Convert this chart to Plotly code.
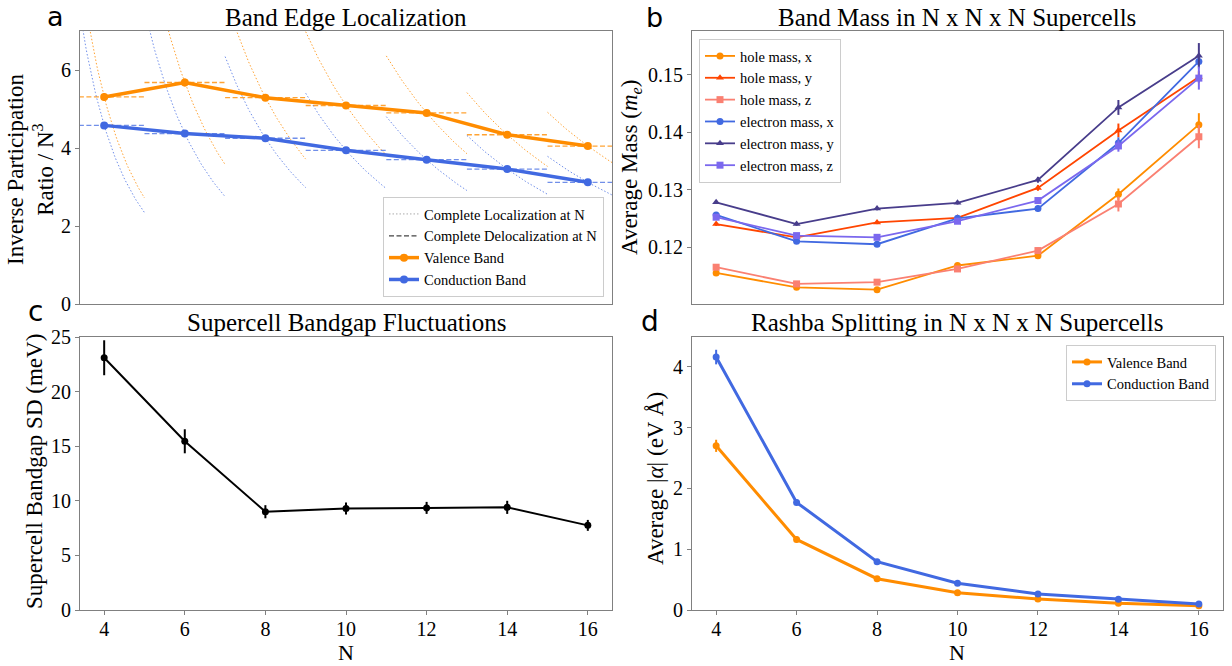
import numpy as np
import plotly.graph_objects as go

W, H = 1232, 666

# ---------------- data ----------------
N = [4, 6, 8, 10, 12, 14, 16]

# panel a: inverse participation ratio / N^3
ipr_valence = [5.31, 5.68, 5.29, 5.09, 4.90, 4.34, 4.05]
ipr_valence_err = [0.10, 0.10, 0.06, 0.05, 0.05, 0.05, 0.05]
ipr_conduction = [4.58, 4.37, 4.25, 3.94, 3.70, 3.46, 3.12]
ipr_conduction_err = [0.05, 0.04, 0.04, 0.03, 0.03, 0.03, 0.03]

# panel b: band masses
hole_x = [0.1155, 0.1130, 0.1126, 0.1168, 0.1185, 0.1292, 0.1413]
hole_x_err = [0.0003, 0.0003, 0.0003, 0.0003, 0.0005, 0.0010, 0.0020]
hole_y = [0.1240, 0.1217, 0.1243, 0.1251, 0.1303, 0.1403, 0.1496]
hole_y_err = [0.0003, 0.0003, 0.0003, 0.0003, 0.0005, 0.0012, 0.0010]
hole_z = [0.1165, 0.1136, 0.1139, 0.1162, 0.1194, 0.1275, 0.1392]
hole_z_err = [0.0003, 0.0003, 0.0003, 0.0003, 0.0005, 0.0013, 0.0020]
elec_x = [0.1256, 0.1210, 0.1205, 0.1250, 0.1267, 0.1381, 0.1523]
elec_x_err = [0.0003, 0.0003, 0.0003, 0.0003, 0.0005, 0.0010, 0.0009]
elec_y = [0.1278, 0.1240, 0.1267, 0.1277, 0.1317, 0.1443, 0.1533]
elec_y_err = [0.0003, 0.0003, 0.0003, 0.0003, 0.0005, 0.0013, 0.0022]
elec_z = [0.1252, 0.1220, 0.1217, 0.1245, 0.1281, 0.1376, 0.1494]
elec_z_err = [0.0003, 0.0003, 0.0003, 0.0003, 0.0005, 0.0010, 0.0020]

# panel c: bandgap SD (meV)
gap_sd = [23.1, 15.45, 9.0, 9.3, 9.35, 9.4, 7.75]
gap_sd_err = [1.6, 1.1, 0.6, 0.55, 0.55, 0.6, 0.5]

# panel d: Rashba |alpha|
rashba_valence = [2.70, 1.16, 0.515, 0.285, 0.18, 0.11, 0.07]
rashba_valence_err = [0.10, 0.05, 0.03, 0.02, 0.015, 0.01, 0.01]
rashba_conduction = [4.16, 1.77, 0.795, 0.44, 0.263, 0.176, 0.099]
rashba_conduction_err = [0.12, 0.05, 0.03, 0.02, 0.015, 0.01, 0.01]

tick_N = [4, 6, 8, 10, 12, 14, 16]

# ---------------- style ----------------
ORANGE = "#FF8C00"
BLUE = "#4169E1"
SERIF = "Liberation Serif, Times New Roman, serif"
SANS = "DejaVu Sans, sans-serif"
AXC = "#808080"


def px(p):
    return p / W


def py(p):
    return 1 - p / H


fig = go.Figure()


def err(vals, color, th=2):
    return dict(type="data", array=vals, visible=True, color=color, thickness=th, width=0)


# ---- panel a reference curves ----
def ref_curves(vals):
    lx, ly, dx, dy = [], [], [], []
    for n0, v in zip(N, vals):
        ns = np.linspace(n0 - 1, n0 + 1, 60)
        lx += list(ns) + [None]
        ly += list(v * (n0 / ns) ** 3) + [None]
        dx += [n0 - 1, n0 + 1, None]
        dy += [v, v, None]
    return lx, ly, dx, dy


for vals, col in [(ipr_valence, "rgba(255,140,0,0.8)"), (ipr_conduction, "rgba(65,105,225,0.75)")]:
    lx, ly, dx, dy = ref_curves(vals)
    fig.add_trace(go.Scatter(x=lx, y=ly, mode="lines", line=dict(color=col, width=1, dash="1.5px,2px"),
                             showlegend=False, xaxis="x", yaxis="y", hoverinfo="skip"))
    fig.add_trace(go.Scatter(x=dx, y=dy, mode="lines", line=dict(color=col, width=1.3, dash="5px,2.5px"),
                             showlegend=False, xaxis="x", yaxis="y", hoverinfo="skip"))

fig.add_trace(go.Scatter(x=[None], y=[None], mode="lines", name="Complete Localization at N",
                         line=dict(color="#aaaaaa", width=1, dash="1.5px,2px"), xaxis="x", yaxis="y", legend="legend"))
fig.add_trace(go.Scatter(x=[None], y=[None], mode="lines", name="Complete Delocalization at N",
                         line=dict(color="#444444", width=1.3, dash="5px,2.5px"), xaxis="x", yaxis="y", legend="legend"))
fig.add_trace(go.Scatter(x=N, y=ipr_valence, error_y=err(ipr_valence_err, ORANGE), mode="lines+markers",
                         name="Valence Band", line=dict(color=ORANGE, width=3.5), marker=dict(size=8, color=ORANGE),
                         xaxis="x", yaxis="y", legend="legend"))
fig.add_trace(go.Scatter(x=N, y=ipr_conduction, error_y=err(ipr_conduction_err, BLUE), mode="lines+markers",
                         name="Conduction Band", line=dict(color=BLUE, width=3.5), marker=dict(size=8, color=BLUE),
                         xaxis="x", yaxis="y", legend="legend"))

# ---- panel b ----
mass_series = [
    ("hole mass, x", hole_x, hole_x_err, "#FF8C00", "circle"),
    ("hole mass, y", hole_y, hole_y_err, "#FF4500", "triangle-up"),
    ("hole mass, z", hole_z, hole_z_err, "#FA8072", "square"),
    ("electron mass, x", elec_x, elec_x_err, "#4169E1", "circle"),
    ("electron mass, y", elec_y, elec_y_err, "#483D8B", "triangle-up"),
    ("electron mass, z", elec_z, elec_z_err, "#7B68EE", "square"),
]
for name, vals, e, col, sym in mass_series:
    fig.add_trace(go.Scatter(x=N, y=vals, error_y=err(e, col, 2), mode="lines+markers", name=name,
                             line=dict(color=col, width=1.8), marker=dict(size=7, color=col, symbol=sym),
                             xaxis="x2", yaxis="y2", legend="legend2"))

# ---- panel c ----
fig.add_trace(go.Scatter(x=N, y=gap_sd, error_y=err(gap_sd_err, "black", 2), mode="lines+markers",
                         line=dict(color="black", width=2), marker=dict(size=7, color="black"),
                         showlegend=False, xaxis="x3", yaxis="y3"))

# ---- panel d ----
fig.add_trace(go.Scatter(x=N, y=rashba_valence, error_y=err(rashba_valence_err, ORANGE), mode="lines+markers",
                         name="Valence Band", line=dict(color=ORANGE, width=3), marker=dict(size=7, color=ORANGE),
                         xaxis="x4", yaxis="y4", legend="legend3"))
fig.add_trace(go.Scatter(x=N, y=rashba_conduction, error_y=err(rashba_conduction_err, BLUE), mode="lines+markers",
                         name="Conduction Band", line=dict(color=BLUE, width=3), marker=dict(size=7, color=BLUE),
                         xaxis="x4", yaxis="y4", legend="legend3"))

# ---------------- axes ----------------
common = dict(showline=True, mirror=True, linecolor=AXC, linewidth=1.2, showgrid=False, zeroline=False,
              automargin=False, ticks="outside", ticklen=4, tickwidth=1, tickcolor=AXC,
              tickfont=dict(family=SERIF, size=20, color="black"))

XL = [px(80), px(612)]
XR = [px(692), px(1223)]
YT = [py(304), py(31)]
YB = [py(610), py(337)]

nolab = dict(showticklabels=False, ticks="")

fig.update_layout(
    template="none",
    xaxis=dict(domain=XL, range=[3.4, 16.6], anchor="y", **{**common, **nolab}),
    yaxis=dict(domain=YT, range=[0, 7], tickvals=[0, 2, 4, 6], anchor="x", **common),
    xaxis2=dict(domain=XR, range=[3.4, 16.6], anchor="y2", **{**common, **nolab}),
    yaxis2=dict(domain=YT, range=[0.1101, 0.1576], tickvals=[0.12, 0.13, 0.14, 0.15],
                ticktext=["0.12", "0.13", "0.14", "0.15"], anchor="x2", **common),
    xaxis3=dict(domain=XL, range=[3.4, 16.6], tickvals=tick_N, anchor="y3", ticklabelstandoff=-3, **common),
    yaxis3=dict(domain=YB, range=[0, 25], tickvals=[0, 5, 10, 15, 20, 25], anchor="x3", **common),
    xaxis4=dict(domain=XR, range=[3.4, 16.6], tickvals=tick_N, anchor="y4", ticklabelstandoff=-3, **common),
    yaxis4=dict(domain=YB, range=[0, 4.49], tickvals=[0, 1, 2, 3, 4], anchor="x4", **common),
)

leg_common = dict(font=dict(family=SERIF, size=14.5, color="black"), bgcolor="rgba(255,255,255,0.85)",
                  bordercolor="#cccccc", borderwidth=1, itemwidth=30, tracegroupgap=0)
fig.update_layout(
    legend=dict(x=px(604), y=py(297), xanchor="right", yanchor="bottom", **leg_common),
    legend2=dict(x=px(699), y=py(39), xanchor="left", yanchor="top", **leg_common),
    legend3=dict(x=px(1216), y=py(345), xanchor="right", yanchor="top", **leg_common),
)

# ---------------- text ----------------
ann = []


def text(s, x, y, size, family=SERIF, angle=0, pad=1):
    ann.append(dict(text=s, x=px(x), y=py(y), xref="paper", yref="paper", xanchor="center", yanchor="middle",
                    showarrow=False, textangle=angle, borderpad=pad,
                    font=dict(family=family, size=size, color="black")))


# titles
text("Band Edge Localization", 346, 17, 25)
text("Band Mass in N x N x N Supercells", 957, 17, 25)
text("Supercell Bandgap Fluctuations", 346, 322, 25)
text("Rashba Splitting in N x N x N Supercells", 957, 322, 25)
# panel letters
text("a", 55, 16, 27, SANS, pad=0)
text("b", 655, 17, 27, SANS, pad=0)
text("c", 35, 311, 28, SANS)
text("d", 650, 321, 28, SANS)
# axis titles
text("Inverse Participation<br>Ratio / N<sup>3</sup>", 30, 170, 23, angle=-90)
text("Average Mass (<i>m<sub>e</sub></i>)", 631, 168, 23, angle=-90)
text("Supercell Bandgap SD (meV)", 34, 472, 23, angle=-90)
text("Average |<i>α</i>| (eV Å)", 655, 478, 23, angle=-90)
text("N", 346, 652, 22)
text("N", 957, 652, 22)

fig.update_layout(annotations=ann, width=W, height=H, margin=dict(l=0, r=0, t=0, b=0, pad=0),
                  plot_bgcolor="white", paper_bgcolor="white", font=dict(family=SERIF, color="black"))

fig.write_html("out.html", config={"displayModeBar": False},
               post_script="document.body.style.margin='0px';")
